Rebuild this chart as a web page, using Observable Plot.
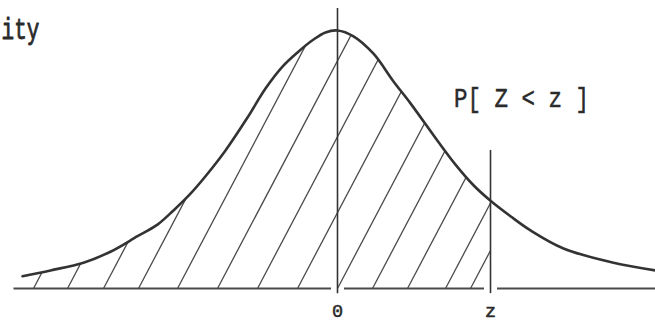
<!DOCTYPE html>
<html>
<head>
<meta charset="utf-8">
<script src="https://cdn.jsdelivr.net/npm/d3@7"></script>
<script src="https://cdn.jsdelivr.net/npm/@observablehq/plot@0.6"></script>
<style>
  html, body { margin: 0; padding: 0; background: #fff; }
  #chart svg { display: block; }
</style>
</head>
<body>
<div id="chart"></div>
<script>
// Curve (x in standard units, density)
const curveX = [-3.15,-2.87,-2.54,-2.27,-2.00,-1.80,-1.64,-1.47,-1.32,-1.12,-0.90,-0.72,-0.55,-0.40,-0.24,-0.12,0,0.16,0.36,0.56,0.73,1.00,1.18,1.36,1.53,1.73,1.93,2.26,2.76,3.18];
const curveY = [0.019,0.028,0.040,0.057,0.081,0.099,0.121,0.147,0.174,0.214,0.265,0.310,0.344,0.366,0.386,0.397,0.400,0.391,0.364,0.321,0.287,0.229,0.192,0.160,0.136,0.112,0.090,0.062,0.040,0.028];
// Cut-off point z
const zValue = 1.53;
// Where the hatch lines meet the baseline
const hatchStarts = [-3.04,-2.70,-2.34,-1.99,-1.60,-1.20,-0.80,-0.40,0,0.35,0.70,1.08,1.33];
// Tick labels
const tickValues = [0, zValue];
const tickLabels = ["0", "z"];
// Texts
const axisTitle = "ity";
const areaLabel = "P[ Z < z ]";

const curve = curveX.map((x, i) => ({x, y: curveY[i]}));
const shaded = curve.filter(d => d.x <= zValue);

const xMin = -3.37, xMax = 3.18;
const hatchRise = 0.45, hatchRun = 1.53; // direction of the hatching
const gap = 0.065;
const baseSegs = [[-3.24, 0 - gap], [0 + gap, zValue - gap], [zValue + gap, xMax]];

const mono = "'Liberation Mono', 'DejaVu Sans Mono', monospace";
const ink = "#2a2a2a";

const plot = Plot.plot({
  width: 655,
  height: 323,
  marginTop: 0, marginRight: 0, marginBottom: 0, marginLeft: 0,
  x: {domain: [xMin, xMax], axis: null},
  y: {domain: [-0.0543, 0.4465], axis: null},
  style: {background: "#fff"},
  marks: [
    Plot.areaY(shaded, {x: "x", y: "y", curve: "catmull-rom", fill: "#fff"}),
    Plot.link(hatchStarts, {x1: d => d, y1: 0, x2: d => d + hatchRun, y2: hatchRise, stroke: "#4a4a4a", strokeWidth: 1.3}),
    Plot.link(baseSegs, {x1: d => d[0], x2: d => d[1], y1: 0, y2: 0, stroke: "#4a4a4a", strokeWidth: 2}),
    Plot.ruleX([0], {y1: -0.008, y2: 0.434, stroke: "#333", strokeWidth: 1.6}),
    Plot.ruleX([zValue], {y1: -0.008, y2: 0.214, stroke: "#333", strokeWidth: 1.6}),
    Plot.line(curve, {x: "x", y: "y", curve: "catmull-rom", stroke: "#333", strokeWidth: 2.6}),
    Plot.text([axisTitle], {x: -3.165, y: 0.400, text: d => d, fontFamily: mono, fontSize: 21, fill: ink, stroke: ink, strokeWidth: 0.6}),
    Plot.text([areaLabel], {x: 1.845, y: 0.294, text: d => d, fontFamily: mono, fontSize: 22.5, fill: ink, stroke: ink, strokeWidth: 0.4}),
    Plot.text(tickValues, {x: d => d, y: -0.035, text: (d, i) => tickLabels[i], fontFamily: mono, fontSize: 18.5, fill: ink, stroke: ink, strokeWidth: 0.5})
  ]
});

// clip the hatching to the shaded area
const ns = "http://www.w3.org/2000/svg";
const areaPath = plot.querySelector('g[aria-label="area"] path');
const defs = document.createElementNS(ns, "defs");
const cp = document.createElementNS(ns, "clipPath");
cp.setAttribute("id", "shadeClip");
const p = document.createElementNS(ns, "path");
p.setAttribute("d", areaPath.getAttribute("d"));
cp.appendChild(p);
defs.appendChild(cp);
plot.insertBefore(defs, plot.firstChild);
const links = plot.querySelectorAll('g[aria-label="link"]');
links[0].setAttribute("clip-path", "url(#shadeClip)");

// typewriter-like tall glyphs
const texts = plot.querySelectorAll('g[aria-label="text"]');
const stretch = [1.4, 1.25, 1];
texts.forEach((g, i) => {
  if (stretch[i] === 1) return;
  g.style.transformBox = "fill-box";
  g.style.transformOrigin = "center";
  g.style.transform = `scaleY(${stretch[i]})`;
});

document.getElementById("chart").appendChild(plot);
</script>
</body>
</html>
